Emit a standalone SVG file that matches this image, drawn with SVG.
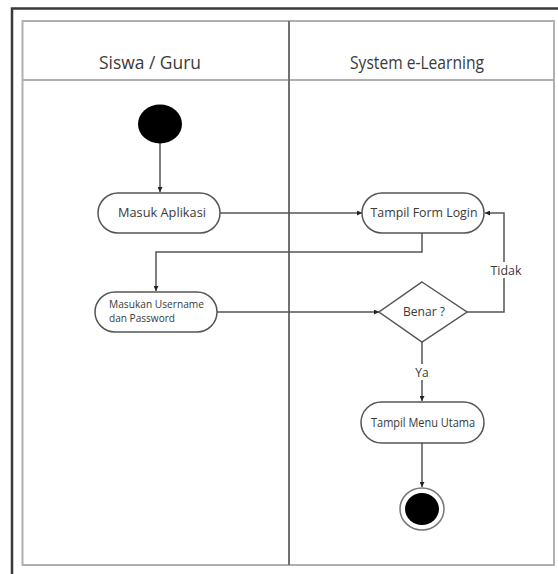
<svg xmlns="http://www.w3.org/2000/svg" width="558" height="574" viewBox="0 0 558 574">
<style>
.frame{fill:none;stroke:#3a3a3a;stroke-width:2.5}
.lane{fill:none;stroke:#b0b0b0;stroke-width:2}
.div{stroke:#707070;stroke-width:2}
.node{fill:#fff;stroke:#555;stroke-width:1.5}
.edge{fill:none;stroke:#555;stroke-width:1.5}
.t{font-family:"Open Sans","Noto Sans","DejaVu Sans",sans-serif;fill:#3a3a3a}
.h{font-size:19px;text-anchor:middle}
.n{font-size:12.5px;text-anchor:middle}
.s{font-size:10.5px}
.lbl{font-size:12px;text-anchor:middle}
</style>
<defs>
<marker id="ah" viewBox="0 0 10 10" refX="10" refY="5" markerWidth="5" markerHeight="5" orient="auto" markerUnits="userSpaceOnUse">
<path d="M0,0 L10,5 L0,10 z" fill="#222"/>
</marker>
</defs>
<rect width="558" height="574" fill="#fff"/>
<g id="frame">
<path class="frame" d="M12,574 V8.5 H558"/>
<rect class="lane" x="22.5" y="21" width="531.5" height="544"/>
<line class="lane" x1="22.5" y1="80" x2="554" y2="80"/>
<line class="div" x1="289" y1="21" x2="289" y2="565"/>
<text class="t h" x="150" y="69" textLength="102" lengthAdjust="spacingAndGlyphs">Siswa / Guru</text>
<text class="t h" x="417" y="69" textLength="134" lengthAdjust="spacingAndGlyphs">System e-Learning</text>
</g>
<g id="connectors">
<path class="edge" d="M160,143 V192" marker-end="url(#ah)"/>
<path class="edge" d="M220,213 H362" marker-end="url(#ah)"/>
<path class="edge" d="M422,233 V252 H156 V291" marker-end="url(#ah)"/>
<path class="edge" d="M217,312 H379" marker-end="url(#ah)"/>
<path class="edge" d="M467,312 H504 V213 H485" marker-end="url(#ah)"/>
<path class="edge" d="M422,342 V401" marker-end="url(#ah)"/>
<path class="edge" d="M422,443 V487" marker-end="url(#ah)"/>
<rect x="490" y="262" width="34" height="16" fill="#fff"/>
<text class="t lbl" x="506" y="275" textLength="31" lengthAdjust="spacingAndGlyphs">Tidak</text>
<rect x="414" y="364" width="16" height="16" fill="#fff"/>
<text class="t lbl" x="422" y="377">Ya</text>
</g>
<g id="start">
<ellipse cx="160" cy="124" rx="22" ry="19.5" fill="#000"/>
</g>
<g id="masuk-aplikasi">
<rect class="node" x="98" y="193" width="122" height="40" rx="20"/>
<text class="t n" x="162" y="217" textLength="88" lengthAdjust="spacingAndGlyphs">Masuk Aplikasi</text>
</g>
<g id="tampil-form-login">
<rect class="node" x="362" y="193" width="122" height="40" rx="20"/>
<text class="t n" x="424" y="217" textLength="107" lengthAdjust="spacingAndGlyphs">Tampil Form Login</text>
</g>
<g id="masukan-username">
<rect class="node" x="95" y="292" width="122" height="40" rx="20"/>
<text class="t s" x="109" y="308" textLength="95" lengthAdjust="spacingAndGlyphs">Masukan Username</text>
<text class="t s" x="109" y="322" textLength="66" lengthAdjust="spacingAndGlyphs">dan Password</text>
</g>
<g id="benar">
<polygon class="node" points="422,282 467,312 422,342 379,312"/>
<text class="t n" x="424" y="316" textLength="42" lengthAdjust="spacingAndGlyphs">Benar ?</text>
</g>
<g id="tampil-menu-utama">
<rect class="node" x="361" y="402" width="123" height="41" rx="20.5"/>
<text class="t n" x="423" y="427" textLength="104" lengthAdjust="spacingAndGlyphs">Tampil Menu Utama</text>
</g>
<g id="end">
<ellipse cx="422" cy="509" rx="22" ry="21" fill="#fff" stroke="#777" stroke-width="1.5"/>
<ellipse cx="422" cy="509" rx="17" ry="16" fill="#000"/>
</g>
</svg>
